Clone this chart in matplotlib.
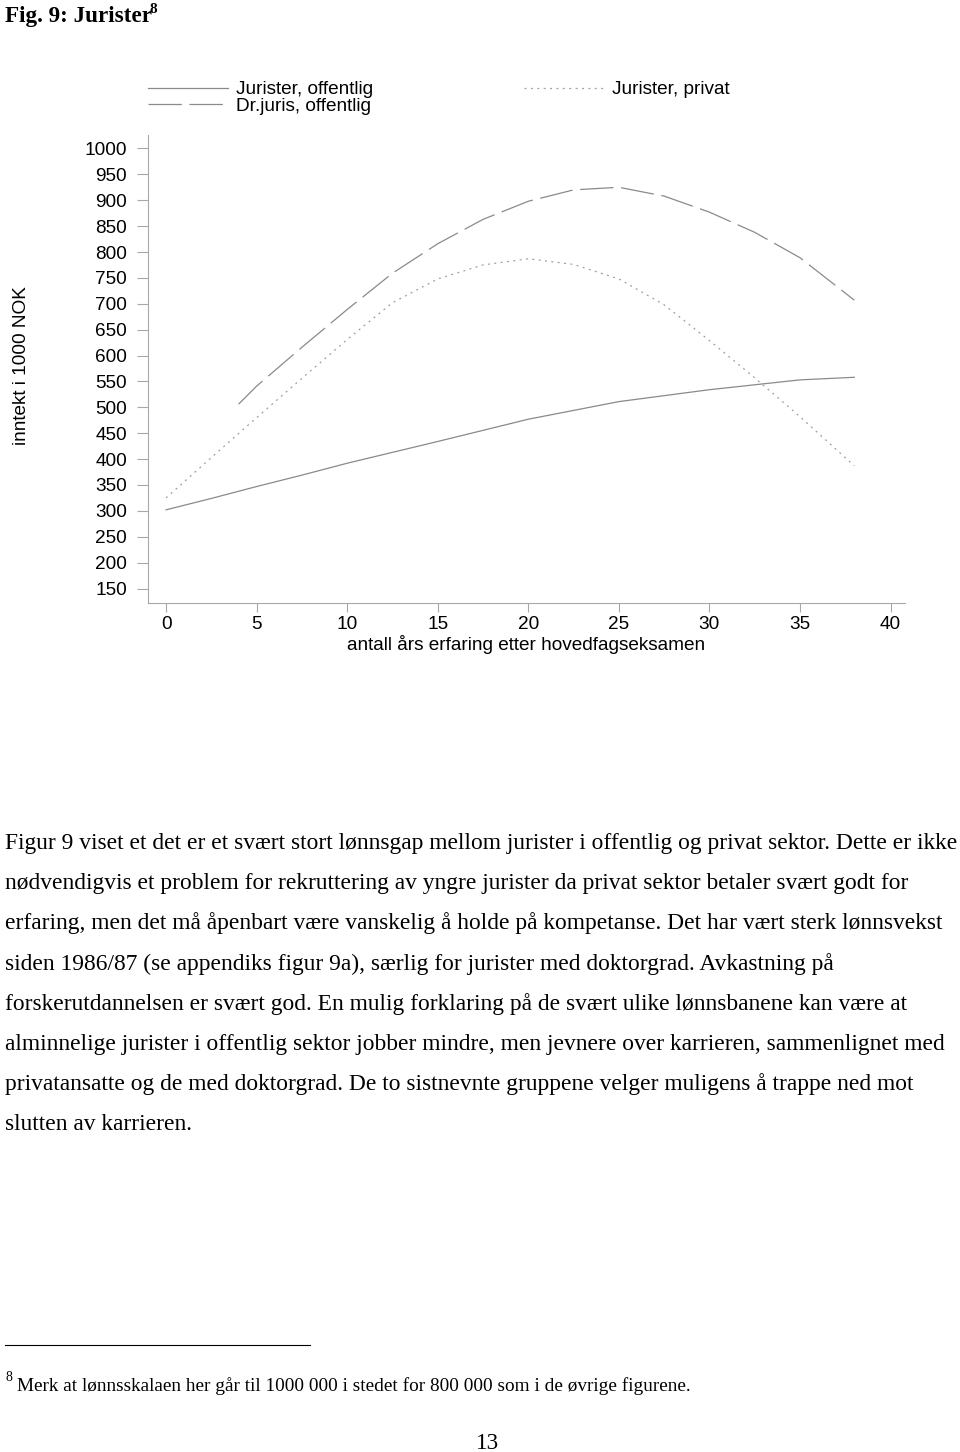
import numpy as np
import matplotlib.pyplot as plt

plt.rcParams['lines.scale_dashes'] = False

W, H = 960, 1452

# lønnsprofiler lest av figuren (1000 NOK)
yrs_off = [0, 2.5, 5, 7.5, 10, 15, 20, 25, 30, 35, 38]
jur_off = [302, 324, 347, 369, 392, 434, 477, 511, 534, 553, 558]

yrs_dr = [4, 5, 7.5, 10, 12.5, 15, 17.5, 20, 22.5, 25, 27.5, 30, 32.5, 35, 38]
dr_off = [506, 541, 616, 689, 759, 816, 863, 898, 920, 925, 908, 877, 838, 789, 707]

yrs_priv = [0, 2.5, 5, 7.5, 10, 12.5, 15, 17.5, 20, 22.5, 25, 27.5, 30, 32.5, 35, 38]
jur_priv = [325, 403, 480, 556, 631, 702, 748, 775, 787, 776, 748, 698, 629, 557, 482, 387]

labels = ["Jurister, offentlig", "Dr.juris, offentlig", "Jurister, privat"]
xticks = list(range(0, 45, 5))
yticks = list(range(150, 1050, 50))

body = [
    "Figur 9 viset et det er et svært stort lønnsgap mellom jurister i offentlig og privat sektor. Dette er ikke",
    "nødvendigvis et problem for rekruttering av yngre jurister da privat sektor betaler svært godt for",
    "erfaring, men det må åpenbart være vanskelig å holde på kompetanse. Det har vært sterk lønnsvekst",
    "siden 1986/87 (se appendiks figur 9a), særlig for jurister med doktorgrad. Avkastning på",
    "forskerutdannelsen er svært god. En mulig forklaring på de svært ulike lønnsbanene kan være at",
    "alminnelige jurister i offentlig sektor jobber mindre, men jevnere over karrieren, sammenlignet med",
    "privatansatte og de med doktorgrad. De to sistnevnte gruppene velger muligens å trappe ned mot",
    "slutten av karrieren.",
]
footnote = "Merk at lønnsskalaen her går til 1000 000 i stedet for 800 000 som i de øvrige figurene."

sans = 'Liberation Sans'
serif = 'Liberation Serif'
lc = '#8a8a8a'
ac = '#a8a8a8'

def fx(x):
    return x / W

def fy(y):
    return 1 - y / H

fig = plt.figure(figsize=(9.6, 14.52), dpi=100)
ax = fig.add_axes([fx(148), fy(603), (905 - 148) / W, (603 - 135) / H])

ax.plot(yrs_off, jur_off, color=lc, lw=0.9, label=labels[0])
ax.plot(yrs_dr, dr_off, color=lc, lw=0.9, linestyle=(0, (24, 5.5)), label=labels[1])
ax.plot(yrs_priv, jur_priv, color='#a0a0a0', lw=0.9, linestyle=(0, (1.4, 3.2)), label=labels[2])

ax.set_xlim(-1.0, 40.8)
ax.set_ylim(122, 1026)
ax.set_xticks(xticks)
ax.set_yticks(yticks)
ax.set_xticklabels([str(t) for t in xticks], fontsize=13.7, family=sans)
ax.set_yticklabels([str(t) for t in yticks], fontsize=13.7, family=sans)
for s in ['top', 'right']:
    ax.spines[s].set_visible(False)
for s in ['left', 'bottom']:
    ax.spines[s].set_color(ac)
    ax.spines[s].set_linewidth(0.8)
ax.tick_params(axis='y', direction='out', length=8, width=0.8, color=ac, pad=7)
ax.tick_params(axis='x', direction='out', length=6.5, width=0.8, color=ac, pad=3)

ax.set_xlabel("antall års erfaring etter hovedfagseksamen", fontsize=13.7, family=sans, va='center')
ax.xaxis.set_label_coords(0.5, (603 - 644) / 468)
ax.set_ylabel("inntekt i 1000 NOK", fontsize=13.7, family=sans, va='center')
ax.yaxis.set_label_coords((22 - 148) / 757, (603 - 366) / 468)

ax.legend(loc='upper left', bbox_to_anchor=(fx(148), fy(81)), bbox_transform=fig.transFigure,
          ncol=2, frameon=False, prop={'family': sans, 'size': 13.7},
          handlelength=4.2, handletextpad=0.43, columnspacing=7.9,
          labelspacing=-0.04, borderpad=0, borderaxespad=0)

# sidetekst
fig.text(fx(5), fy(22), "Fig. 9: Jurister", family=serif, fontsize=16.7, weight='bold', va='baseline')
fig.text(fx(150), fy(13), "8", family=serif, fontsize=11, weight='bold', va='baseline')

for i, line in enumerate(body):
    fig.text(fx(5), fy(849 + i * 40.2), line, family=serif, fontsize=16.9, va='baseline')

fig.add_artist(plt.Line2D([fx(5), fx(310)], [fy(1345), fy(1345)], color='black', lw=0.8))
fig.text(fx(5), fy(1381), "8", family=serif, fontsize=10, va='baseline')
fig.text(fx(17), fy(1391), footnote, family=serif, fontsize=13.9, va='baseline')
fig.text(fx(488), fy(1449), "13", family=serif, fontsize=16.7, ha='center', va='baseline')

fig.savefig("out.png", dpi=100, facecolor='white')
